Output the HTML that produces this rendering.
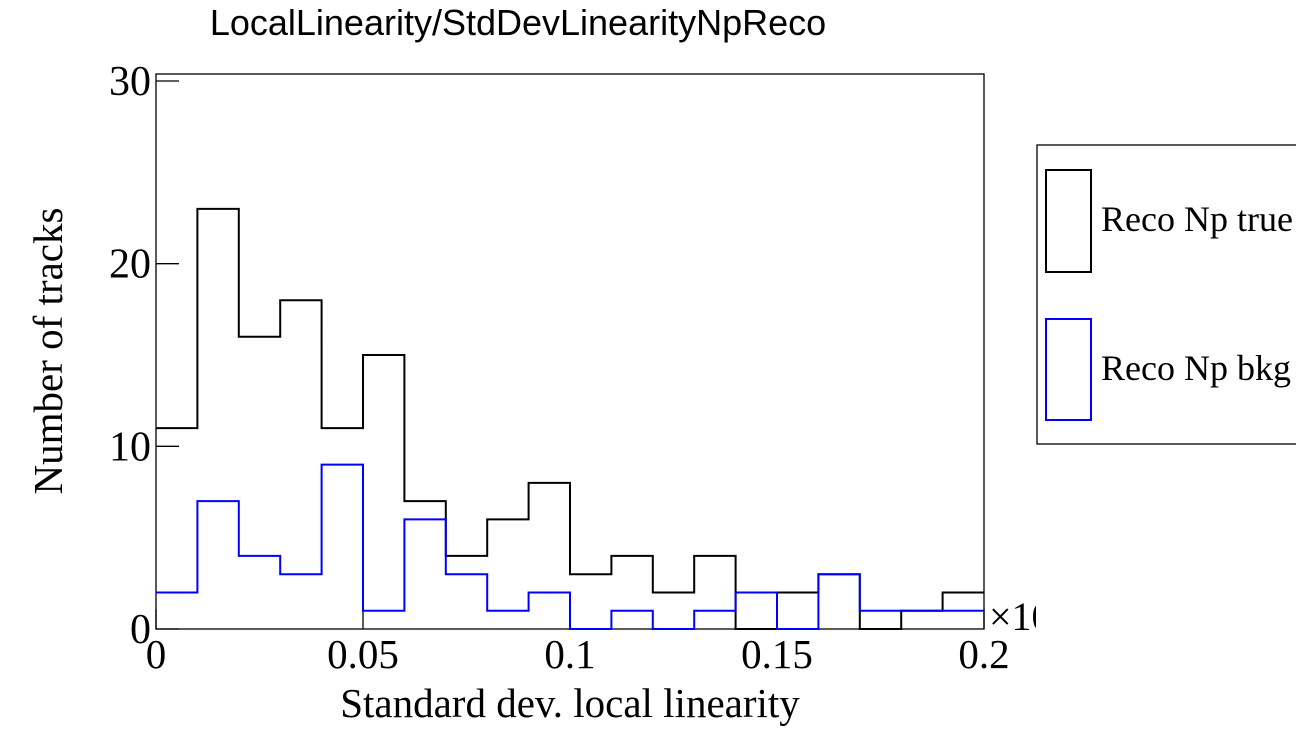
<!DOCTYPE html>
<html><head><meta charset="utf-8"><style>
body{margin:0;background:#fff;}
svg text{font-family:"Liberation Serif",serif;}
</style></head><body>
<svg id="c" width="1296" height="740" xmlns="http://www.w3.org/2000/svg">
<text x="518" y="35" font-size="36" text-anchor="middle" style="font-family:'Liberation Sans',sans-serif">LocalLinearity/StdDevLinearityNpReco</text>
<rect x="156" y="74" width="828" height="555" fill="none" stroke="#000" stroke-width="1.3"/>
<g id="axes"></g>
<g id="series"></g>
<text x="570" y="717" font-size="41" text-anchor="middle">Standard dev. local linearity</text>
<text transform="translate(62,351) rotate(-90)" font-size="41" text-anchor="middle">Number of tracks</text>
<text x="989" y="630" font-size="40">×10</text>
<rect x="1037" y="145" width="260" height="299" fill="#fff" stroke="#000" stroke-width="1.3"/>
<rect x="1046" y="170" width="45" height="102" fill="none" stroke="#000" stroke-width="2"/>
<text x="1101" y="231" font-size="36">Reco Np true</text>
<rect x="1046" y="319" width="45" height="101" fill="none" stroke="#0000ff" stroke-width="2"/>
<text x="1101" y="380" font-size="36">Reco Np bkg</text>
<rect x="1036" y="595" width="30" height="45" fill="#fff"/>
</svg>
<script>
const binEdgeStart = 0, binWidth = 0.01;
const trueCounts = [11,23,16,18,11,15,7,4,6,8,3,4,2,4,0,2,3,0,1,2];
const bkgCounts  = [2,7,4,3,9,1,6,3,1,2,0,1,0,1,2,0,3,1,1,1];
const xTicks = [0,0.05,0.1,0.15,0.2];
const xTickLabels = ["0","0.05","0.1","0.15","0.2"];
const yTicks = [0,10,20,30];
const yTickLabels = ["0","10","20","30"];

const X0=156,X1=984,Y0=629,Y30=81;
const xs=v=>X0+(v-0)/0.2*(X1-X0);
const ys=v=>Y0-v/30*(Y0-Y30);
const NS="http://www.w3.org/2000/svg";
const axes=document.getElementById('axes'), ser=document.getElementById('series');
function mk(tag,attrs,parent){const e=document.createElementNS(NS,tag);for(const k in attrs)e.setAttribute(k,attrs[k]);parent.appendChild(e);return e;}
xTicks.forEach((t,i)=>{
  const l=mk('line',{x1:xs(t),x2:xs(t),y1:Y0,y2:Y0-20,stroke:'#000','stroke-width':1.3},axes);
  
  
  const tx=mk('text',{x:xs(t),y:Y0+39,'font-size':41,'text-anchor':'middle'},axes);
  tx.textContent=xTickLabels[i];
  
  
});
yTicks.forEach((t,i)=>{
  const l=mk('line',{x1:X0,x2:X0+23,y1:ys(t),y2:ys(t),stroke:'#000','stroke-width':1.3},axes);
  
  
  const tx=mk('text',{x:X0-5,y:ys(t)+14,'font-size':42,'text-anchor':'end'},axes);
  tx.textContent=yTickLabels[i];
  
  
});
function stepPath(counts){
  let d='M'+xs(binEdgeStart)+','+ys(counts[0]);
  counts.forEach((c,i)=>{
    const a=binEdgeStart+i*binWidth,b=a+binWidth;
    d+=' L'+xs(a)+','+ys(c)+' L'+xs(b)+','+ys(c);
  });
  return d;
}
const pt=mk('path',{d:stepPath(trueCounts),fill:'none',stroke:'#000','stroke-width':2},ser);


const pb=mk('path',{d:stepPath(bkgCounts),fill:'none',stroke:'#0000ff','stroke-width':2},ser);


</script>
</body></html>
